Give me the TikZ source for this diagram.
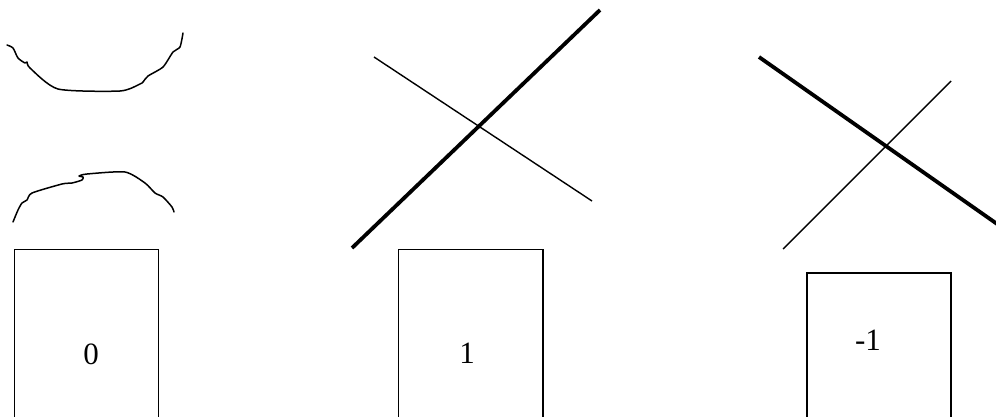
\documentclass[tikz,border=0pt]{standalone}
\usepackage{fontspec}
\setmainfont{Liberation Serif}
\begin{document}
\begin{tikzpicture}[x=1pt,y=-1pt,
  thinline/.style={line width=1.4pt, line cap=butt},
  thickline/.style={line width=3.8pt, line cap=butt},
  hand/.style={line width=1.5pt, line join=round, line cap=round},
  boxside/.style={line width=1.6pt},
  digit/.style={font=\fontsize{31}{36}\selectfont, inner sep=0pt}]
\useasboundingbox (0,0) rectangle (996,416);
\clip (0,0) rectangle (996,416);
% left: two hand-drawn curves
\draw[hand] plot[smooth, tension=0.4] coordinates {(7,45) (13,48) (18,58) (25,63) (27,62) (30,68) (58,89) (120,91) (140,84) (143,82) (148,76) (163,67) (173,52) (180,47) (183,33)};
\draw[hand] plot[smooth, tension=0.4] coordinates {(13,222) (18,210) (22,203) (27,200) (32,193) (62,184) (72,183) (82,180) (83,177) (79,176) (87,174) (125,172) (145,183) (155,193) (163,197) (172,207) (174,212)};
% middle: crossing lines
\coordinate (m1a) at (352,248);
\coordinate (m1b) at (600,10);
\coordinate (m2a) at (374,57);
\coordinate (m2b) at (592,201);
\draw[thickline] (m1a) -- (m1b);
\draw[thinline] (m2a) -- (m2b);
% right: crossing lines
\coordinate (r1a) at (759,57);
\coordinate (r1b) at (1000,226);
\coordinate (r2a) at (783,249);
\coordinate (r2b) at (951,81);
\draw[thickline] (r1a) -- (r1b);
\draw[thinline] (r2a) -- (r2b);
% boxes (cut off at the bottom edge)
\draw[boxside] (14.3,420) -- (14.3,249.3) -- (158.3,249.3) -- (158.3,420);
\draw[boxside] (398.3,420) -- (398.3,249.3) -- (543,249.3) -- (543,420);
\draw[boxside] (807,420) -- (807,273) -- (951,273) -- (951,420);
\node[digit] (n0) at (91,354) {0};
\node[digit] (n1) at (467,353) {1};
\node[digit] (n2) at (868,340) {-1};
\end{tikzpicture}
\end{document}
